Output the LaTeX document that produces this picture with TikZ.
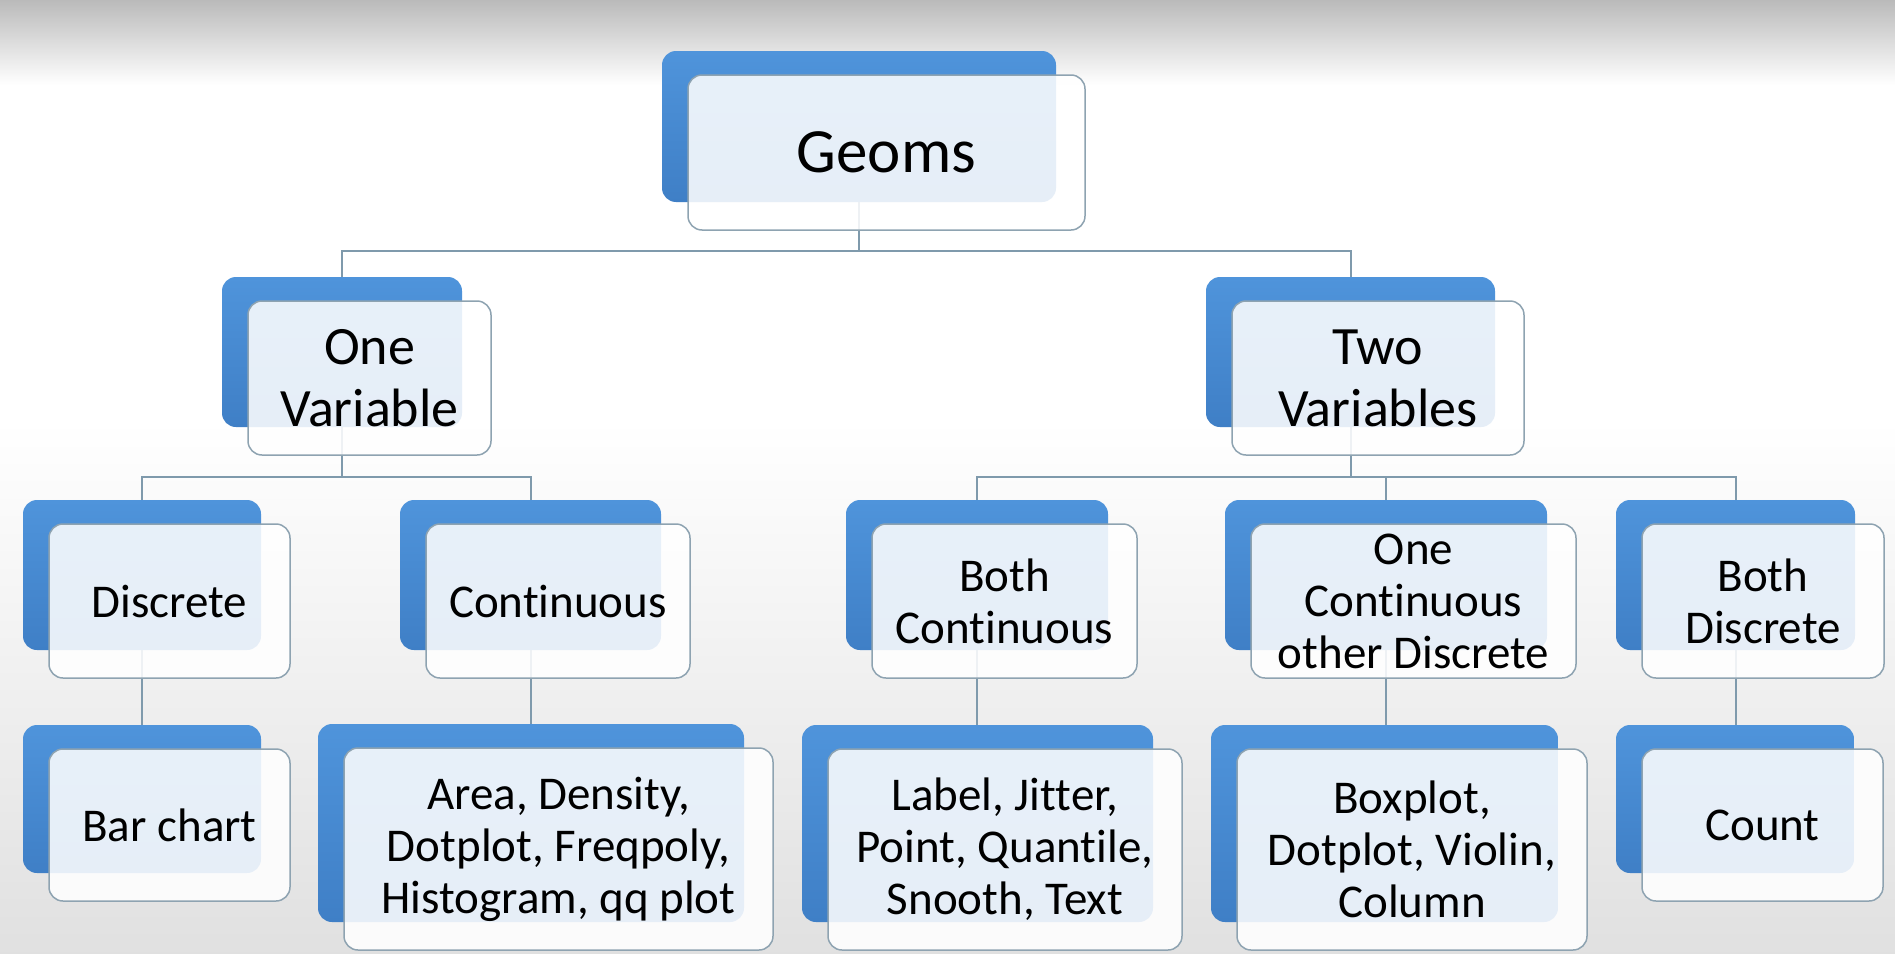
\documentclass[tikz,border=0pt]{standalone}
\usepackage{fontspec}
\setmainfont{Carlito}[Ligatures={NoCommon,NoContextual,NoRequired}]
\definecolor{bluetop}{HTML}{4F94DB}
\definecolor{bluebot}{HTML}{3F7FC6}
\definecolor{frontline}{HTML}{8EA3B1}
\definecolor{conncol}{HTML}{7F9AAC}
\pgfdeclarelayer{bg}
\pgfsetlayers{bg,main}
\newcommand\gbox[7]{%
  \node[backbox, minimum width=#4pt, minimum height=#5pt] (#1) at (#2,#3) {};
  \node[frontbox, minimum width=#4pt+3pt, minimum height=#5pt+4pt, #6] (#1-f) at ([shift={(27.5,26)}]#1.center) {#7};}
\begin{document}
\begin{tikzpicture}[x=1pt,y=-1pt,
  backbox/.style={rounded corners=14pt, top color=bluetop, bottom color=bluebot, draw=none, inner sep=0pt},
  frontbox/.style={rounded corners=14pt, draw=frontline, line width=1.5pt, fill=white, fill opacity=0.87, text opacity=1, inner sep=0pt, align=center},
  conn/.style={draw=conncol, line width=2pt},
  fa/.style={font=\fontsize{63}{70}\selectfont},
  fb/.style={font=\fontsize{54}{62}\selectfont},
  fc/.style={font=\fontsize{47}{52}\selectfont}]
\useasboundingbox (0,0) rectangle (1895,953);

\gbox{geoms}{859}{126.5}{394}{151}{fa}{Geoms}
\gbox{onevar}{342}{352}{240}{150}{fb}{One\\Variable}
\gbox{twovar}{1350.5}{352}{289}{150}{fb}{Two\\Variables}
\gbox{disc}{142}{575}{238}{150}{fc}{Discrete}
\gbox{cont}{530.5}{575}{261}{150}{fc}{Continuous}
\gbox{bcont}{977}{575}{262}{150}{fc}{Both\\Continuous}
\gbox{ocod}{1386}{575}{322}{150}{fc}{One\\Continuous\\other Discrete}
\gbox{bdisc}{1735.5}{575}{239}{150}{fc}{Both\\Discrete}
\gbox{bar}{142}{799}{238}{148}{fc}{Bar chart}
\gbox{area}{531}{823}{426}{198}{fc}{Area, Density,\\Dotplot, Freqpoly,\\Histogram, qq plot}
\gbox{label}{977.5}{823.5}{351}{197}{fc}{Label, Jitter,\\Point, Quantile,\\Snooth, Text}
\gbox{boxplot}{1384.5}{823.5}{347}{197}{fc}{Boxplot,\\Dotplot, Violin,\\Column}
\gbox{count}{1735}{799}{238}{148}{fc}{Count}

\begin{pgfonlayer}{bg}
  \fill[white] (0,0) rectangle (1895,953);
  \shade[top color=black!27, bottom color=white] (0,0) rectangle (1895,85);
  \shade[top color=white, bottom color=black!12] (0,420) rectangle (1895,953);
  \coordinate (j1) at (859,251);
  \coordinate (j2) at (342,477);
  \coordinate (j3) at (1350.5,477);
  \draw[conn] (geoms.south) -- (j1);
  \draw[conn] (j1) -| (onevar.north);
  \draw[conn] (j1) -| (twovar.north);
  \draw[conn] (onevar.south) -- (j2);
  \draw[conn] (j2) -| (disc.north);
  \draw[conn] (j2) -| (cont.north);
  \draw[conn] (twovar.south) -- (j3);
  \draw[conn] (j3) -| (bcont.north);
  \draw[conn] (j3) -| (ocod.north);
  \draw[conn] (j3) -| (bdisc.north);
  \draw[conn] (disc.south) -- (disc.south |- bar.north);
  \draw[conn] (cont.south) -- (cont.south |- area.north);
  \draw[conn] (bcont.south) -- (bcont.south |- label.north);
  \draw[conn] (ocod.south) -- (ocod.south |- boxplot.north);
  \draw[conn] (bdisc.south) -- (bdisc.south |- count.north);
\end{pgfonlayer}
\end{tikzpicture}
\end{document}
